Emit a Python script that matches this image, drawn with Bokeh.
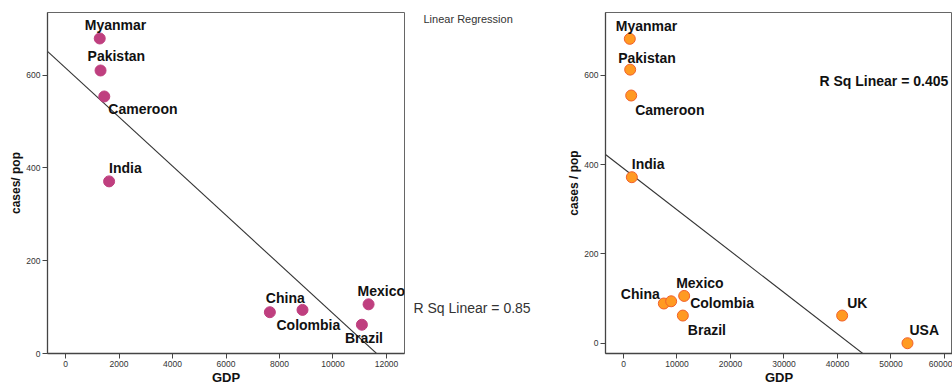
import numpy as np
from bokeh.plotting import figure
from bokeh.layouts import row
from bokeh.models import ColumnDataSource, Label, FixedTicker, Range1d
from bokeh.core.properties import value
from bokeh.embed import file_html
from bokeh.resources import INLINE

# ---------------- data ----------------
left_countries = ["Myanmar", "Pakistan", "Cameroon", "India", "China", "Colombia", "Brazil", "Mexico"]
left_gdp = [1280, 1310, 1450, 1630, 7640, 8860, 11080, 11330]
left_cases = [679, 610, 554, 371, 89, 94, 62, 106]
left_r2_text = "R Sq Linear = 0.85"

right_countries = ["Myanmar", "Pakistan", "Cameroon", "India", "China", "Colombia", "Mexico", "Brazil", "UK", "USA"]
right_gdp = [1180, 1250, 1440, 1560, 7540, 8910, 11340, 11090, 40870, 53080]
right_cases = [682, 613, 555, 372, 89, 94, 106, 62, 62, 0]
right_r2_text = "R Sq Linear = 0.405"

left_xticks = [0, 2000, 4000, 6000, 8000, 10000, 12000]
left_yticks = [0, 200, 400, 600]
right_xticks = [0, 10000, 20000, 30000, 40000, 50000, 60000]
right_yticks = [0, 200, 400, 600]

legend_title = "Linear Regression"
x_title = "GDP"
left_y_title = "cases/ pop"
right_y_title = "cases / pop"

# ---------------- layout / style (pixel offsets of country labels) ----------------
left_dx = [-15, -13, 4, 0, -4, -26, -17, -11]
left_dy = [-13, -14, 13, -13, -14, 15, 13, -13]
right_dx = [-14, -12, 4, 0, -43, 19, -8, 5, 5, 2]
right_dy = [-13, -12, 14, -13, -10, 2, -13, 14, -13, -13]

FONT = "Liberation Sans"
H = 387
TOP, BOTTOM = 12, 34


def make_plot(width, xr, yr, xticks, yticks, ytitle, countries, gdp, cases, dx, dy,
              fill, line, min_left, min_right):
    p = figure(width=width, height=H, output_backend="svg", toolbar_location=None,
               x_range=Range1d(*xr), y_range=Range1d(*yr),
               min_border_left=min_left, min_border_right=min_right,
               min_border_top=TOP, min_border_bottom=BOTTOM,
               background_fill_color="white", border_fill_color="white")
    p.grid.visible = False
    p.outline_line_color = "#666666"
    p.outline_line_width = 1

    for ax in (p.xaxis[0], p.yaxis[0]):
        ax.axis_line_color = "#444444"
        ax.axis_line_width = 1.3
        ax.major_tick_line_color = "#444444"
        ax.major_tick_out = 5
        ax.major_tick_in = 0
        ax.minor_tick_line_color = None
        ax.major_label_text_font = FONT
        ax.major_label_text_font_size = "8.5px"
        ax.major_label_text_color = "#333333"
        ax.major_label_standoff = 2
        ax.axis_label_text_font = FONT
        ax.axis_label_text_font_style = "bold"
        ax.axis_label_text_color = "#111111"
        ax.axis_label_standoff = 0
    p.xaxis[0].ticker = FixedTicker(ticks=xticks)
    p.yaxis[0].ticker = FixedTicker(ticks=yticks)
    p.xaxis[0].axis_label = x_title
    p.xaxis[0].axis_label_text_font_size = "13px"
    p.yaxis[0].axis_label = ytitle
    p.yaxis[0].axis_label_text_font_size = "12px"

    # regression line fitted from the data
    slope, intercept = np.polyfit(np.array(gdp, float), np.array(cases, float), 1)
    x0, x1 = xr
    p.line([x0, x1], [intercept + slope * x0, intercept + slope * x1],
           line_color="#333333", line_width=1.1)

    src = ColumnDataSource(dict(x=gdp, y=cases, name=countries, dx=dx, dy=dy))
    p.scatter("x", "y", source=src, size=11, marker="circle",
              fill_color=fill, line_color=line, line_width=1)
    p.text("x", "y", text="name", x_offset="dx", y_offset="dy", source=src,
           text_font=value(FONT), text_font_style="bold", text_font_size="14px",
           text_color="#111111", text_align="left", text_baseline="alphabetic")
    return p


left = make_plot(406, (-673, 12673), (0, 735), left_xticks, left_yticks, left_y_title,
                 left_countries, left_gdp, left_cases, left_dx, left_dy,
                 "#BF3F7F", "#BF3F7F", 47, 2)
right = make_plot(412, (-3364, 61496), (-23, 741), right_xticks, right_yticks, right_y_title,
                  right_countries, right_gdp, right_cases, right_dx, right_dy,
                  "#FF9A22", "#F2602A", 65, 0)

right.add_layout(Label(x=214, y=273, x_units="screen", y_units="screen", text=right_r2_text,
                       text_font=FONT, text_font_style="bold", text_font_size="14px",
                       text_color="#111111", text_baseline="alphabetic"))

# middle strip that holds the fit note and the legend title
# (frame aligned with the neighbours; ranges scaled so that 1 unit = 1 pixel,
#  y measured upward from the bottom of the window)
mid_w = 134
mid = figure(width=mid_w, height=H, output_backend="svg", toolbar_location=None,
             x_range=Range1d(0, mid_w), y_range=Range1d(BOTTOM, H - TOP),
             x_axis_location=None, y_axis_location=None,
             min_border_left=0, min_border_right=0,
             min_border_top=TOP, min_border_bottom=BOTTOM,
             background_fill_color="white", border_fill_color="white")
mid.grid.visible = False
mid.outline_line_color = None
mid.add_layout(Label(x=7, y=80, text=left_r2_text,
                     text_font=FONT, text_font_size="14px", text_color="#333333",
                     text_baseline="alphabetic"))
mid.add_layout(Label(x=17, y=369, text=legend_title,
                     text_font=FONT, text_font_size="11px", text_color="#333333",
                     text_baseline="alphabetic"))

layout = row(left, mid, right)
open("out.html", "w").write(file_html(layout, INLINE))
